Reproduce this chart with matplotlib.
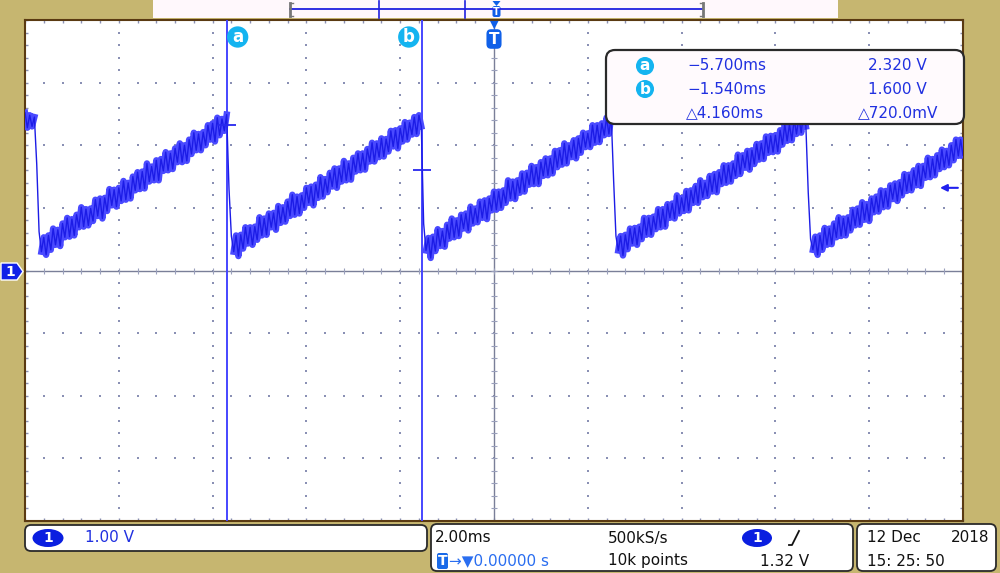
import numpy as np
import matplotlib
matplotlib.use('Agg')
import matplotlib.pyplot as plt
from matplotlib.patches import FancyBboxPatch, Ellipse, Polygon, Rectangle

plt.rcParams['font.family'] = ['DejaVu Sans']

# Scope settings (2 ms/div, 1 V/div, trigger at centre)
time_per_div = 2.0
volt_per_div = 1.0
trig_level = 1.32
cursor_t = [-5.700, -1.540]
cursor_v = [2.320, 1.600]
cursor_names = ['a', 'b']

# Channel 1 samples, every 0.05 ms from -10 ms to +10 ms
ch1_volts = [
    2.52, 2.28, 2.48, 2.30, 2.45, 1.70, 0.62, 0.30,
    0.53, 0.25, 0.56, 0.33, 0.67, 0.41, 0.65, 0.39, 0.75, 0.53, 0.84, 0.54, 0.82, 0.56,
    0.89, 0.69, 1.01, 0.70, 0.98, 0.72, 0.99, 0.79, 1.13, 0.87, 1.15, 0.83, 1.16, 0.95,
    1.30, 1.04, 1.29, 1.02, 1.32, 1.11, 1.43, 1.13, 1.40, 1.15, 1.50, 1.28, 1.57, 1.30,
    1.58, 1.31, 1.71, 1.42, 1.66, 1.44, 1.76, 1.44, 1.78, 1.59, 1.89, 1.60, 1.87, 1.62,
    1.95, 1.73, 2.03, 1.73, 2.00, 1.75, 2.09, 1.86, 2.20, 1.92, 2.18, 1.92, 2.21, 2.00,
    2.32, 2.09, 2.35, 2.06, 2.44, 2.16, 2.42, 2.23, 2.49, 1.30, 0.55, 0.30,
    0.56, 0.23, 0.57, 0.35, 0.69, 0.43, 0.69, 0.41, 0.70, 0.49, 0.85, 0.56, 0.83, 0.57,
    0.91, 0.69, 0.92, 0.65, 1.03, 0.76, 1.01, 0.78, 1.10, 0.87, 1.21, 0.89, 1.18, 0.91,
    1.20, 1.00, 1.32, 1.08, 1.34, 1.04, 1.37, 1.16, 1.49, 1.18, 1.46, 1.25, 1.56, 1.34,
    1.63, 1.32, 1.63, 1.42, 1.75, 1.44, 1.71, 1.45, 1.80, 1.58, 1.87, 1.60, 1.87, 1.61,
    1.94, 1.74, 2.04, 1.74, 2.03, 1.81, 2.11, 1.82, 2.10, 1.90, 2.23, 1.98, 2.24, 1.95,
    2.27, 2.06, 2.37, 2.09, 2.36, 2.17, 2.45, 2.18, 2.48, 2.30, 0.75, 0.32,
    0.52, 0.20, 0.54, 0.31, 0.66, 0.39, 0.63, 0.38, 0.73, 0.51, 0.83, 0.53, 0.80, 0.55,
    0.89, 0.67, 0.91, 0.64, 1.02, 0.75, 0.99, 0.77, 1.10, 0.84, 1.12, 0.82, 1.15, 0.96,
    1.26, 0.97, 1.26, 1.00, 1.28, 1.08, 1.44, 1.15, 1.42, 1.14, 1.44, 1.24, 1.55, 1.26,
    1.56, 1.37, 1.67, 1.38, 1.65, 1.38, 1.73, 1.51, 1.79, 1.52, 1.79, 1.55, 1.91, 1.65,
    1.92, 1.69, 2.03, 1.71, 2.00, 1.81, 2.08, 1.79, 2.11, 1.88, 2.20, 1.97, 2.19, 1.97,
    2.32, 2.04, 2.32, 2.05, 2.35, 2.16, 2.44, 2.18, 2.46, 1.45, 0.55, 0.32,
    0.55, 0.24, 0.57, 0.34, 0.67, 0.43, 0.68, 0.41, 0.70, 0.50, 0.84, 0.57, 0.84, 0.57,
    0.86, 0.66, 0.98, 0.69, 0.98, 0.70, 1.06, 0.84, 1.07, 0.83, 1.20, 0.91, 1.16, 0.95,
    1.27, 0.96, 1.28, 1.08, 1.35, 1.08, 1.44, 1.17, 1.40, 1.19, 1.51, 1.26, 1.54, 1.25,
    1.57, 1.38, 1.68, 1.40, 1.68, 1.42, 1.71, 1.51, 1.85, 1.54, 1.84, 1.64, 1.91, 1.61,
    1.92, 1.70, 2.02, 1.77, 2.03, 1.78, 2.14, 1.88, 2.15, 1.89, 2.16, 1.90, 2.24, 2.01,
    2.33, 2.07, 2.33, 2.08, 2.41, 2.18, 2.45, 2.20, 2.52, 2.30, 1.25, 0.50, 0.33,
    0.54, 0.25, 0.56, 0.33, 0.68, 0.41, 0.67, 0.42, 0.75, 0.53, 0.85, 0.55, 0.83, 0.56,
    0.85, 0.64, 0.97, 0.72, 0.99, 0.73, 1.09, 0.81, 1.06, 0.79, 1.15, 0.93, 1.18, 0.94,
    1.28, 1.01, 1.27, 1.02, 1.36, 1.14, 1.39, 1.11, 1.41, 1.20, 1.54, 1.27, 1.53, 1.28,
    1.60, 1.36, 1.67, 1.35, 1.67, 1.48, 1.80, 1.49, 1.78, 1.52, 1.84, 1.62, 1.93, 1.65,
    1.91, 1.68, 2.00, 1.76, 2.09, 1.83, 2.09, 1.84,
]
t_ms = np.linspace(-5 * time_per_div, 5 * time_per_div, len(ch1_volts))

tan = '#c6b670'
cursor_blue = '#4646ff'
grid_col = '#8a90b4'
cyan = '#14b4f0'
text_blue = '#2030e0'

fig = plt.figure(figsize=(10, 5.73), dpi=100, facecolor=tan)

# graticule
ax = fig.add_axes([0.025, 1 - 521 / 573, 0.938, 501 / 573], zorder=1)
ax.set_facecolor('white')
ax.set_xlim(-5 * time_per_div, 5 * time_per_div)
ax.set_ylim(-4 * volt_per_div, 4 * volt_per_div)
for s in ax.spines.values():
    s.set_color('#5a3a12')
    s.set_linewidth(1.5)
ax.set_xticks([])
ax.set_yticks([])
ax.set_xticks(np.arange(-10, 10.01, 0.4), minor=True)
ax.set_yticks(np.arange(-4, 4.01, 0.2), minor=True)
ax.tick_params(which='minor', direction='in', length=2.5, width=1, color=grid_col,
               top=True, right=True, labelbottom=False, labelleft=False)

minor_y = np.arange(-4, 4.01, 0.2)
minor_x = np.arange(-10, 10.01, 0.4)
for gx in [-8, -6, -4, -2, 2, 4, 6, 8]:
    ax.scatter(np.full(minor_y.size, gx), minor_y, s=2.5, marker='s', c=grid_col, lw=0, zorder=2)
for gy in [-3, -2, -1, 1, 2, 3]:
    ax.scatter(minor_x, np.full(minor_x.size, gy), s=2.5, marker='s', c=grid_col, lw=0, zorder=2)

# centre cross with tick marks
ax.axhline(0, color='#7a7f98', lw=1, zorder=2)
ax.axvline(0, color='#7a7f98', lw=1, zorder=2)
ax.plot(minor_x, np.zeros(minor_x.size), ls='none', marker='|', ms=4.5, mew=0.8, color='#9aa0bc', zorder=2)
ax.plot(np.zeros(minor_y.size), minor_y, ls='none', marker='_', ms=4.5, mew=0.8, color='#9aa0bc', zorder=2)

# cursors
for ct, cv in zip(cursor_t, cursor_v):
    ax.axvline(ct, color=cursor_blue, lw=1.4, zorder=3)
    ax.plot(ct, cv, marker='_', ms=13, mew=1.3, color='#2828ee', zorder=5)
for name, ct, dx in zip(cursor_names, cursor_t, [11, -13]):
    ax.annotate(name, xy=(ct, 4), xytext=(dx, -17), textcoords='offset pixels',
                ha='center', va='center', color='white', fontsize=12, fontweight='bold',
                bbox=dict(boxstyle='circle,pad=0.1', fc=cyan, ec='none'), zorder=6)

# trace: broad noisy band (not on the fast falling edges) plus darker spikes on top
volts = np.array(ch1_volts)
falling = np.r_[False, np.diff(volts) < -0.5]
band = np.ma.masked_where(falling, volts)
ax.plot(t_ms, band, color='#4a4aff', lw=4.6, solid_joinstyle='round', zorder=4)
ax.plot(t_ms, volts, color='#1c1ce6', lw=1.0, zorder=4)

# trigger position / level markers
ax.annotate('▼', xy=(0, 4), xytext=(0, -5), textcoords='offset pixels', ha='center', va='center',
            color='#1060e8', fontsize=8, zorder=6)
ax.annotate('T', xy=(0, 4), xytext=(0, -19), textcoords='offset pixels', ha='center', va='center',
            color='white', fontsize=11, fontweight='bold',
            bbox=dict(boxstyle='round,pad=0.15,rounding_size=0.3', fc='#1060e8', ec='none'), zorder=6)
ax.annotate('', xy=(9.45, trig_level), xytext=(9.95, trig_level),
            arrowprops=dict(arrowstyle='-|>', color='#2020ee', lw=1.5, mutation_scale=10), zorder=6)

# overlay in pixel coordinates for the on-screen panels
ov = fig.add_axes([0, 0, 1, 1], zorder=5)
ov.set_xlim(0, 1000)
ov.set_ylim(573, 0)
ov.axis('off')
ov.patch.set_alpha(0)


def panel(x0, y0, x1, y1, fc='white', r=6, lw=1.3):
    ov.add_patch(FancyBboxPatch((x0, y0), x1 - x0, y1 - y0,
                                boxstyle=f'round,pad=0,rounding_size={r}',
                                fc=fc, ec='#2a2a2a', lw=lw))


# record bar at the top
ov.add_patch(Rectangle((153, 0), 685, 18, fc='#fff8fc', ec='none'))
bar_x0, bar_x1 = 290, 703


def bar_x(t):
    return bar_x0 + (bar_x1 - bar_x0) * (t + 10) / 20


ov.plot([bar_x0, bar_x1], [9, 9], color='#2020e0', lw=1.3)
for bx in (bar_x0, bar_x1):
    ov.plot([bx, bx], [3, 16], color='#777777', lw=2)
ov.plot([bar_x0, bar_x0 + 3], [3, 3], color='#777777', lw=1)
ov.plot([bar_x0, bar_x0 + 3], [16, 16], color='#777777', lw=1)
ov.plot([bar_x1 - 3, bar_x1], [3, 3], color='#777777', lw=1)
ov.plot([bar_x1 - 3, bar_x1], [16, 16], color='#777777', lw=1)
for ct in cursor_t:
    ov.plot([bar_x(ct)] * 2, [1, 18], color='#2020e0', lw=1.2)
ov.add_patch(FancyBboxPatch((bar_x(0) - 4, 6), 8, 11, boxstyle='round,pad=0,rounding_size=2',
                            fc='#1060e8', ec='none'))
ov.text(bar_x(0), 12, 'T', color='white', fontsize=7, fontweight='bold', ha='center', va='center')
ov.add_patch(Polygon([(bar_x(0) - 4, 1), (bar_x(0) + 4, 1), (bar_x(0), 6)], fc='#1060e8', ec='none'))

# channel 1 ground marker
ov.add_patch(Polygon([(1, 263), (17, 263), (23, 271.5), (17, 280), (1, 280)],
                     fc='#1020e8', ec='white', lw=1))
ov.text(10, 272, '1', color='white', fontsize=10, fontweight='bold', ha='center', va='center')

# cursor readout box
panel(606, 50, 964, 124, fc='#fffafd', r=9, lw=1.6)
rows_y = [66, 89, 113]
for name, y in zip(cursor_names, rows_y):
    ov.text(645, y, name, color='white', fontsize=11, fontweight='bold', ha='center', va='center',
            bbox=dict(boxstyle='circle,pad=0.1', fc=cyan, ec='none'))
ov.text(687, rows_y[0], f'\u2212{abs(cursor_t[0]):.3f}ms', color=text_blue, fontsize=11, va='center')
ov.text(687, rows_y[1], f'\u2212{abs(cursor_t[1]):.3f}ms', color=text_blue, fontsize=11, va='center')
ov.text(686, rows_y[2], f'\u25b3{cursor_t[1] - cursor_t[0]:.3f}ms', color=text_blue, fontsize=11, va='center')
ov.text(927, rows_y[0], f'{cursor_v[0]:.3f} V', color=text_blue, fontsize=11, va='center', ha='right')
ov.text(927, rows_y[1], f'{cursor_v[1]:.3f} V', color=text_blue, fontsize=11, va='center', ha='right')
ov.text(938, rows_y[2], f'\u25b3{(cursor_v[0] - cursor_v[1]) * 1000:.1f}mV', color=text_blue,
        fontsize=11, va='center', ha='right')

# bottom status panels
panel(25, 525, 427, 551)
ov.add_patch(Ellipse((48, 538), 31, 18, fc='#0a1ee0', ec='none'))
ov.text(48, 538.5, '1', color='white', fontsize=10, fontweight='bold', ha='center', va='center')
ov.text(85, 538, f'{volt_per_div:.2f} V', color=text_blue, fontsize=11, va='center')

panel(431, 524, 853, 571)
ov.text(435, 538, f'{time_per_div:.2f}ms', color='#111111', fontsize=11, va='center')
ov.text(608, 538, '500kS/s', color='#111111', fontsize=11, va='center')
ov.add_patch(Ellipse((757, 538), 30, 18, fc='#0a1ee0', ec='none'))
ov.text(757, 538.5, '1', color='white', fontsize=10, fontweight='bold', ha='center', va='center')
ov.plot([789, 792, 799], [545, 545, 531], color='#111111', lw=1.3)
ov.text(608, 561, '10k points', color='#111111', fontsize=11, va='center')
ov.text(809, 561, f'{trig_level:.2f} V', color='#111111', fontsize=11, va='center', ha='right')
ov.add_patch(FancyBboxPatch((437, 553), 11, 16, boxstyle='round,pad=0,rounding_size=2',
                            fc='#1a6ae8', ec='none'))
ov.text(442.5, 561, 'T', color='white', fontsize=10, fontweight='bold', ha='center', va='center')
ov.text(449, 561, '\u2192\u25bc0.00000 s', color='#2a6ef0', fontsize=11, va='center')

panel(857, 524, 996, 571)
ov.text(867, 538, '12 Dec', color='#111111', fontsize=11, va='center')
ov.text(989, 538, '2018', color='#111111', fontsize=11, va='center', ha='right')
ov.text(867, 561, '15: 25: 50', color='#111111', fontsize=11, va='center')

fig.savefig('out.png', dpi=100, facecolor=tan)
